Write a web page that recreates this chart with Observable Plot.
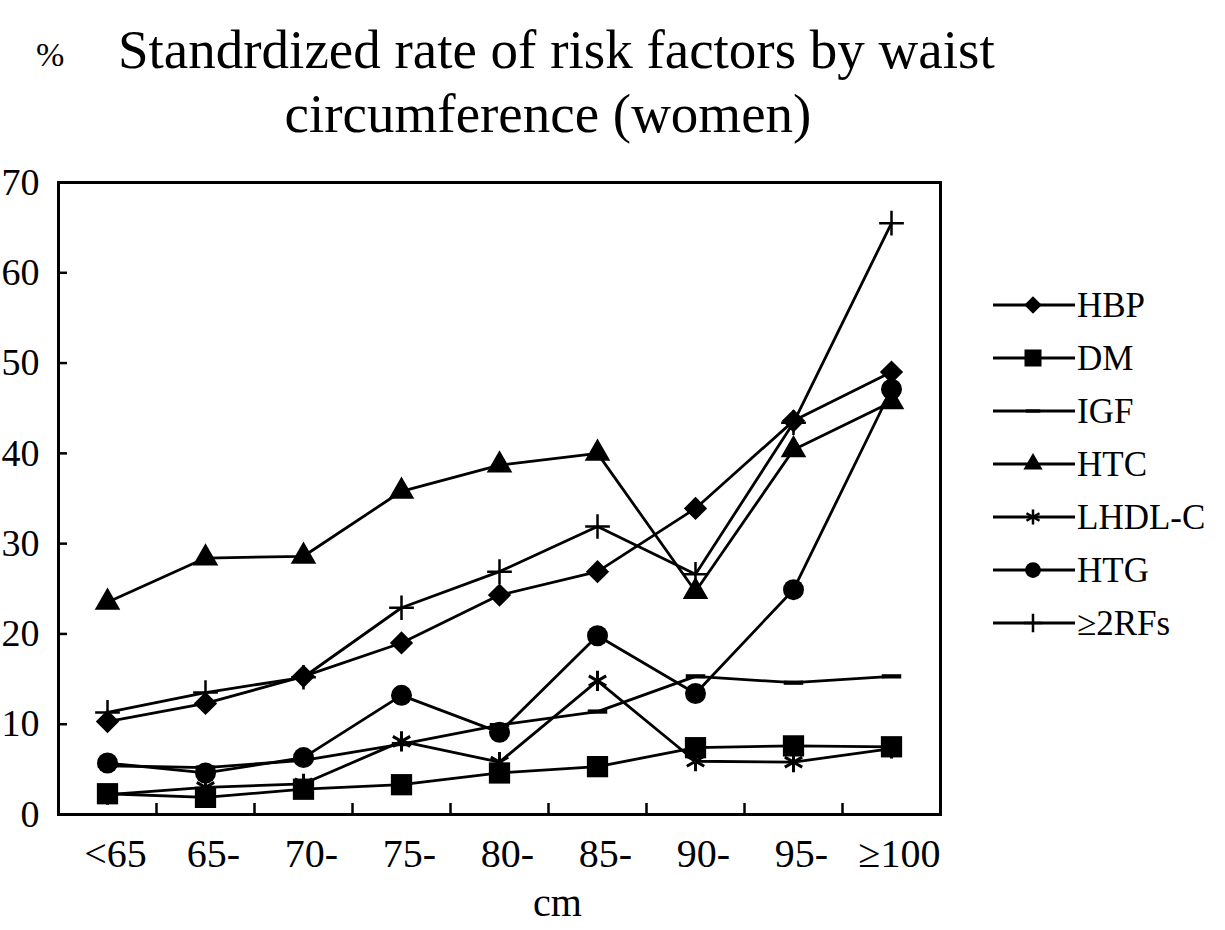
<!DOCTYPE html>
<html><head><meta charset="utf-8">
<script src="https://cdn.jsdelivr.net/npm/d3@7"></script>
<script src="https://cdn.jsdelivr.net/npm/@observablehq/plot@0.6"></script>
<style>
html,body{margin:0;padding:0;background:#fff;}
#wrap{position:relative;width:1225px;height:930px;overflow:hidden;font-family:"Liberation Serif","Times New Roman",serif;background:#fff;}
#chart{position:absolute;left:0;top:0;}
#overlay{position:absolute;left:0;top:0;pointer-events:none;}
</style></head><body>
<div id="wrap"><div id="chart"></div><svg id="overlay" width="1225" height="930"></svg></div>
<script>
// ---- data ----
const categories = ["<65", "65-", "70-", "75-", "80-", "85-", "90-", "95-", "≥100"];
const HBP   = [10.3, 12.3, 15.3, 19.0, 24.3, 26.9, 33.9, 43.6, 49.0];
const DM    = [2.3, 1.9, 2.8, 3.3, 4.6, 5.3, 7.4, 7.6, 7.5];
const IGF   = [5.4, 5.2, 6.0, 7.8, 9.9, 11.4, 15.3, 14.6, 15.3];
const HTC   = [23.5, 28.4, 28.6, 35.8, 38.7, 40.0, 24.7, 40.4, 45.7];
const LHDLC = [2.2, 3.0, 3.4, 8.1, 5.8, 14.8, 5.9, 5.8, 7.3];
const HTG   = [5.7, 4.6, 6.3, 13.2, 9.1, 19.8, 13.4, 24.9, 47.1];
const RF2   = [11.3, 13.5, 15.2, 22.9, 26.9, 31.9, 26.6, 43.4, 65.5];
const seriesNames = ["HBP", "DM", "IGF", "HTC", "LHDL-C", "HTG", "≥2RFs"];
const yTicks = [0, 10, 20, 30, 40, 50, 60, 70];
const titleLine1 = "Standrdized rate of risk factors by waist";
const titleLine2 = "circumference (women)";
const unitLabel = "%";
const xLabel = "cm";

// ---- build table ----
const seriesValues = [HBP, DM, IGF, HTC, LHDLC, HTG, RF2];
const dash = {draw(ctx, size) { const w = Math.sqrt(size); ctx.moveTo(-w, -w*0.22); ctx.lineTo(w, -w*0.22); ctx.lineTo(w, w*0.22); ctx.lineTo(-w, w*0.22); ctx.closePath(); }};
const styles = {
  "HBP":   {symbol: "diamond2", r: 10.5, fill: "black"},
  "DM":    {symbol: "square", r: 12, fill: "black"},
  "IGF":   {symbol: dash, r: 5.5, fill: "black"},
  "HTC":   {symbol: "triangle", r: 9.5, fill: "black"},
  "LHDL-C":{symbol: "asterisk", r: 9.5, stroke: "black", strokeWidth: 3},
  "HTG":   {symbol: "circle", r: 10.5, fill: "black"},
  "≥2RFs": {symbol: "plus", r: 8, stroke: "black", strokeWidth: 2.5}
};
const data = [];
seriesNames.forEach((name, k) => seriesValues[k].forEach((v, i) => data.push({series: name, idx: i, cat: categories[i], value: v})));
const xPos = d => d.idx + 0.5;

const dotMarks = seriesNames.map(name => {
  const s = styles[name];
  const o = {x: xPos, y: "value", symbol: () => s.symbol, r: s.r};
  if (s.fill) o.fill = s.fill; else { o.fill = "none"; o.stroke = s.stroke; o.strokeWidth = s.strokeWidth; }
  return Plot.dot(data.filter(d => d.series === name), o);
});

const chart = Plot.plot({
  width: 1225, height: 930,
  marginLeft: 58, marginRight: 285, marginTop: 182, marginBottom: 116,
  style: {fontFamily: "'Liberation Serif', 'Times New Roman', serif", fontSize: "38px", color: "#000", background: "#fff"},
  x: {domain: [0, categories.length]},
  y: {domain: [0, 70]},
  symbol: {type: "identity"},
  marks: [
    Plot.frame({stroke: "black", strokeWidth: 3}),
    Plot.axisY({ticks: yTicks, tickSize: 9, dx: 9, text: null, strokeWidth: 2.5, label: null}),
    Plot.axisY({ticks: yTicks, tickSize: 0, tickPadding: 19, label: null, fontSize: 38}),
    Plot.axisX({ticks: d3.range(1, categories.length), tickSize: 11, dy: -11, text: null, strokeWidth: 2.5, label: null}),
    Plot.axisX({ticks: d3.range(categories.length).map(i => i + 0.5), tickFormat: t => categories[Math.floor(t)], tickSize: 0, tickPadding: 24, dx: 8, label: null, fontSize: 40}),
    Plot.text([xLabel], {frameAnchor: "bottom", dx: 58, dy: 101, fontSize: 40, fill: "black"}),
    Plot.line(data, {x: xPos, y: "value", z: "series", stroke: "black", strokeWidth: 2.8}),
    ...dotMarks
  ]
});
document.getElementById("chart").appendChild(chart);

// ---- overlay: title and legend ----
const ov = d3.select("#overlay").style("font-family", "'Liberation Serif', 'Times New Roman', serif");
ov.append("text").attr("x", 36).attr("y", 66).attr("font-size", 34).text(unitLabel);
ov.append("text").attr("x", 118).attr("y", 68).attr("font-size", 55).text(titleLine1);
ov.append("text").attr("x", 548).attr("y", 132).attr("font-size", 55).attr("text-anchor", "middle").text(titleLine2);

const lg = ov.append("g");
seriesNames.forEach((name, k) => {
  const s = styles[name];
  const g = lg.append("g").attr("transform", `translate(993, ${305 + k * 53})`);
  g.append("line").attr("x1", 0).attr("x2", 82).attr("y1", 0).attr("y2", 0).attr("stroke", "black").attr("stroke-width", 3);
  const sym = typeof s.symbol === "string"
    ? ({diamond2: d3.symbolDiamond2, square: d3.symbolSquare, triangle: d3.symbolTriangle, asterisk: d3.symbolAsterisk, circle: d3.symbolCircle, plus: d3.symbolPlus})[s.symbol]
    : s.symbol;
  const scale = name === "DM" ? 0.8 : 0.75;
  const p = g.append("path").attr("transform", "translate(40,0)")
    .attr("d", d3.symbol(sym, Math.PI * (s.r * scale) ** 2)());
  if (s.fill) p.attr("fill", "black"); else p.attr("fill", "none").attr("stroke", "black").attr("stroke-width", 2.5);
  g.append("text").attr("x", 84).attr("y", 0).attr("dy", "0.35em").attr("font-size", 35).text(name);
});
</script>
</body></html>
